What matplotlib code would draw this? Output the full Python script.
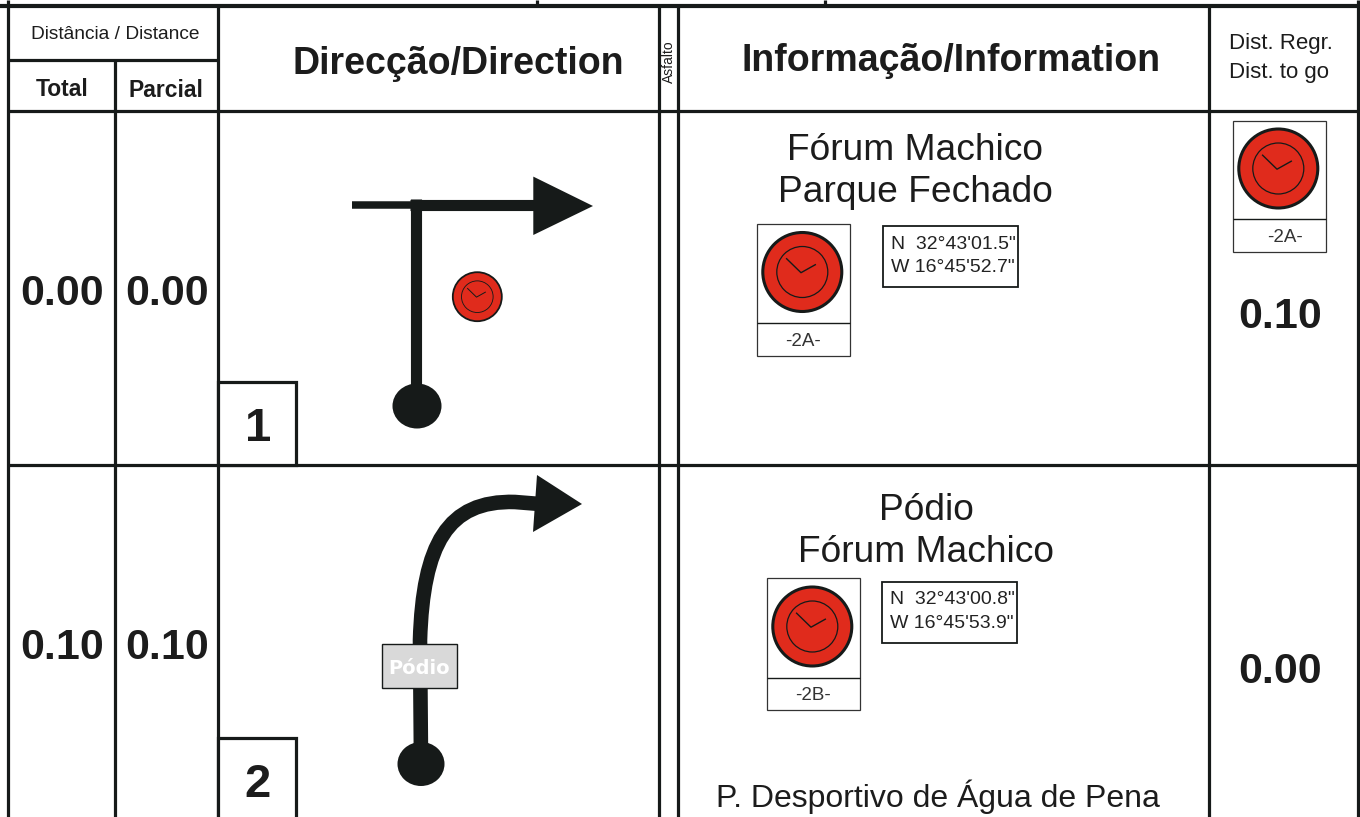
import matplotlib
matplotlib.use("Agg")
import matplotlib.pyplot as plt
from matplotlib.patches import Circle, Ellipse, Polygon, Rectangle, PathPatch
from matplotlib.path import Path

# roadbook values
total = ["0.00", "0.10"]
parcial = ["0.00", "0.10"]
dist_to_go = ["0.10", "0.00"]
box_numbers = ["1", "2"]
place_1 = ["Fórum Machico", "Parque Fechado"]
place_2 = ["Pódio", "Fórum Machico"]
place_3 = "P. Desportivo de Água de Pena"
coords_1 = ["N  32°43'01.5\"", "W 16°45'52.7\""]
coords_2 = ["N  32°43'00.8\"", "W 16°45'53.9\""]
stamp_labels = ["-2A-", "-2B-", "-2A-"]

DARK = "#161a19"
RED = "#e02b1c"
SANS = ["Liberation Sans", "DejaVu Sans"]

fig = plt.figure(figsize=(13.6, 8.17), dpi=100)
ax = fig.add_axes([0, 0, 1, 1])
ax.set_xlim(0, 1360)
ax.set_ylim(817, 0)
ax.axis("off")


def line(x0, y0, x1, y1, lw=2.3):
    ax.plot([x0, x1], [y0, y1], color=DARK, lw=lw, solid_capstyle="butt")


def txt(x, y, s, size, weight="normal", family=SANS, color="#1c1c1c", **kw):
    ax.text(x, y, s, fontsize=size, fontweight=weight, family=family, color=color,
            ha="center", va="center", **kw)


def clock(cx, cy, r, lw=2.2):
    k = r / 39.5
    ax.add_patch(Circle((cx, cy), r, fc=RED, ec=DARK, lw=lw, zorder=3))
    ax.add_patch(Circle((cx, cy), 25.5 * k, fc="none", ec=DARK, lw=0.9 * max(k, 0.7), zorder=4))
    ax.plot([cx - 15.7 * k, cx - 1.3 * k, cx + 13 * k], [cy - 13.3 * k, cy + 0.7 * k, cy - 7.3 * k],
            color=DARK, lw=1.0 * max(k, 0.7), zorder=4)


def stamp(x0, y0, x1, ydiv, y1, label, label_dx=0):
    ax.add_patch(Rectangle((x0, y0), x1 - x0, y1 - y0, fc="white", ec="#333333", lw=0.9, zorder=2))
    line(x0, ydiv, x1, ydiv, lw=1.0)
    clock((x0 + x1) / 2 - 1.2, (y0 + ydiv) / 2 - 1.5, 39.5)
    txt((x0 + x1) / 2 + label_dx, (ydiv + y1) / 2 + 2, label, 13.5, color="#333333", zorder=3)


def coord_box(x0, y0, x1, y1, rows):
    ax.add_patch(Rectangle((x0, y0), x1 - x0, y1 - y0, fc="white", ec=DARK, lw=1.3, zorder=2))
    for dy, row in zip([18, 42], rows):
        ax.text(x0 + 8, y0 + dy, row, fontsize=14, family=SANS, color="#222222", va="center", zorder=3)


# table grid
line(0, 6, 1360, 6, lw=3)
for y in [111, 465]:
    line(8, y, 1358, y)
line(8, 60, 218, 60)
for x in [218, 659, 678, 1209]:
    line(x, 6, x, 817)
for x in [8, 1358]:
    line(x, 0, x, 817)
line(115, 60, 115, 817)
line(537, 0, 537, 6)
line(825, 0, 825, 6)

# headers
txt(115, 34, "Distância / Distance", 13.8)
txt(62, 89, "Total", 16.5, "bold")
txt(166, 90, "Parcial", 16.5, "bold")
txt(458, 64, "Direcção/Direction", 27, "bold")
txt(669, 62, "Asfalto", 10, rotation=90)
txt(951, 61, "Informação/Information", 27, "bold")
for y, s in zip([43, 72], ["Dist. Regr.", "Dist. to go"]):
    ax.text(1229, y, s, fontsize=16, family=SANS, color="#1c1c1c", va="center")

# distance columns
for y, t, p, d, yd in zip([294, 648], total, parcial, dist_to_go, [317, 672]):
    txt(62, y, t, 31, "bold")
    txt(167, y, p, 31, "bold")
    txt(1280, yd, d, 31, "bold")

# instruction number boxes
for (y0, y1), n, yt in zip([(382, 465), (738, 830)], box_numbers, [429, 785]):
    ax.add_patch(Rectangle((218, y0), 78, y1 - y0, fc="white", ec=DARK, lw=2.3, zorder=2))
    txt(258, yt, n, 34, "bold", zorder=3)

# row 1 tulip
line(352, 204.7, 412, 204.7, lw=5.4)
line(410, 204.5, 540, 204.5, lw=8)
line(415.5, 199, 415.5, 395, lw=8)
ax.add_patch(Polygon([(533.3, 176.6), (593, 206), (533.3, 235)], fc=DARK, ec="none"))
ax.add_patch(Ellipse((417, 406), 49, 45, fc=DARK, ec="none"))
clock(477.3, 296.7, 24.5, lw=1.3)

# row 2 tulip
verts = [(421, 760), (420, 640), (423, 545), (447, 500), (515, 502), (540, 504)]
codes = [Path.MOVETO, Path.LINETO, Path.CURVE4, Path.CURVE4, Path.CURVE4, Path.LINETO]
ax.add_patch(PathPatch(Path(verts, codes), fc="none", ec=DARK, lw=10.5, capstyle="butt"))
ax.add_patch(Polygon([(537, 475), (582, 504), (533, 532)], fc=DARK, ec="none"))
ax.add_patch(Ellipse((421, 764), 47, 44, fc=DARK, ec="none"))
ax.add_patch(Rectangle((382, 644), 75, 44, fc="#d9d9d9", ec=DARK, lw=1.0, zorder=3))
txt(419.5, 668, "Pódio", 14, "bold", ["DejaVu Sans"], color="white", zorder=4)

# information column
txt(915, 150, place_1[0], 26.7)
txt(915, 192, place_1[1], 26.7)
stamp(757, 224, 850, 323, 356, stamp_labels[0])
coord_box(883, 226, 1018, 287, coords_1)

txt(926, 511, place_2[0], 26.7)
txt(926, 553, place_2[1], 26.7)
stamp(767, 578, 860, 678, 710, stamp_labels[1])
coord_box(882, 582, 1017, 643, coords_2)
txt(938, 797, place_3, 23)

# distance to go stamp
stamp(1233, 121, 1326, 219, 252, stamp_labels[2], label_dx=6)

fig.savefig("out.png", dpi=100)
